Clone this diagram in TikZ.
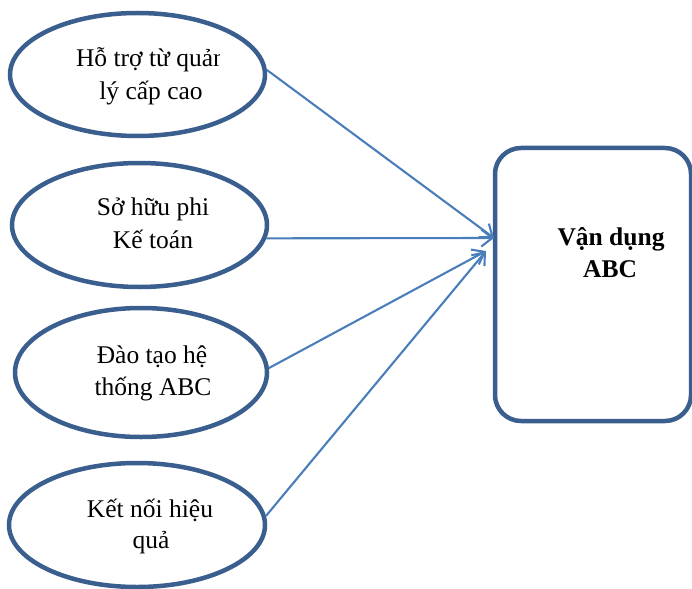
\documentclass[tikz,border=0pt]{standalone}
\usepackage{fontspec}
\setmainfont{Liberation Serif}
\usetikzlibrary{shapes.geometric,arrows.meta}
\definecolor{edgeblue}{HTML}{3A5F8E}
\definecolor{arrowblue}{HTML}{4A7EBB}
\tikzset{
  oval/.style={ellipse, draw=edgeblue, line width=4.5pt, inner sep=0pt, fill=white},
  lbl/.style={anchor=base, inner sep=0pt, font=\fontsize{25.5}{32}\selectfont},
  boldlbl/.style={anchor=base, inner sep=0pt, font=\fontsize{25.5}{32}\selectfont\bfseries},
  conn/.style={draw=arrowblue, line width=2.1pt, -{Straight Barb[length=11pt,width=17pt]}},
  target/.style={draw=edgeblue, line width=4.5pt, rounded corners=26pt, inner sep=0pt, fill=white}
}
\begin{document}
\begin{tikzpicture}[x=1pt,y=-1pt]
\useasboundingbox (0,0) rectangle (692,588);
% ovals
\node[oval, minimum width=255pt, minimum height=123pt] (e1) at (137.5,74.5) {};
\node[oval, minimum width=255pt, minimum height=124pt] (e2) at (139.5,225) {};
\node[oval, minimum width=252pt, minimum height=129pt] (e3) at (141,372.5) {};
\node[oval, minimum width=256pt, minimum height=124pt] (e4) at (137,525) {};
% target box
\node[target, minimum width=196pt, minimum height=273pt] (box) at (593,284.5) {};
% texts
\begin{scope}
  \clip (0,0) rectangle (219,588);
  \node[lbl] (t1a) at (151,67) {Hỗ trợ từ quản};
\end{scope}
\node[lbl] (t1b) at (151,100) {lý cấp cao};
\node[lbl] (t2a) at (153,215) {Sở hữu phi};
\node[lbl] (t2b) at (153,248) {Kế toán};
\node[lbl] (t3a) at (152,363) {Đào tạo hệ};
\node[lbl] (t3b) at (153,395) {thống ABC};
\node[lbl] (t4a) at (150,517) {Kết nối hiệu};
\node[lbl] (t4b) at (151,548) {quả};
\node[boldlbl] (b1) at (611,245) {Vận dụng};
\node[boldlbl] (b2) at (610,277) {ABC};
% arrow ends
\coordinate (in1) at (494,238);
\coordinate (in2) at (486,251);
% connectors
\draw[conn] (e1.2.5) -- (in1);
\draw[conn] (e2.-6) -- (in1);
\draw[conn] (e3.2) -- (in2);
\draw[conn] (e4.4) -- (in2);
\end{tikzpicture}
\end{document}
